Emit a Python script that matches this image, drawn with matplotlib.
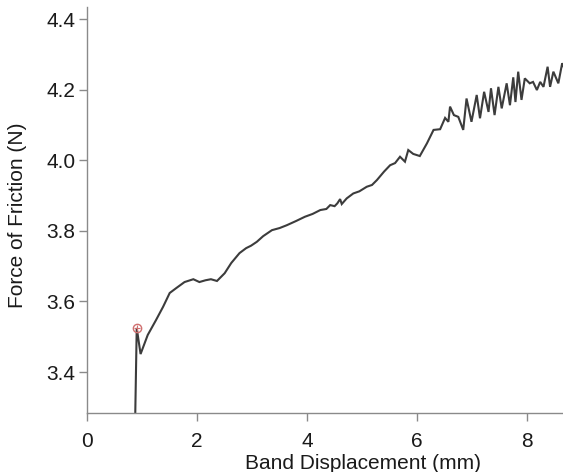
import matplotlib
matplotlib.use("Agg")
import matplotlib.pyplot as plt

plt.rcParams['font.family'] = ['Liberation Sans', 'DejaVu Sans']

displacement = [0.87, 0.90, 0.97, 1.10, 1.25, 1.38, 1.50, 1.62, 1.77, 1.93, 2.04, 2.15, 2.25,
                2.36, 2.50, 2.62, 2.77, 2.89, 2.98, 3.085, 3.20, 3.36, 3.50, 3.63, 3.80, 3.96,
                4.10, 4.24, 4.35, 4.42, 4.50, 4.55, 4.60, 4.63, 4.72, 4.84, 4.95, 5.085, 5.18,
                5.27, 5.40, 5.51, 5.60, 5.69, 5.78, 5.84, 5.93, 6.05, 6.18, 6.30, 6.42, 6.51,
                6.57, 6.60, 6.67, 6.75, 6.84, 6.90, 6.99, 7.085, 7.145, 7.22, 7.30, 7.345, 7.41,
                7.48, 7.54, 7.63, 7.69, 7.75, 7.79, 7.84, 7.90, 7.96, 8.05, 8.11, 8.18, 8.24,
                8.30, 8.375, 8.42, 8.48, 8.57, 8.64, 8.68]
friction = [3.25, 3.525, 3.451, 3.505, 3.547, 3.585, 3.624, 3.638, 3.655, 3.663, 3.655, 3.660, 3.663,
            3.658, 3.680, 3.709, 3.737, 3.751, 3.758, 3.769, 3.785, 3.802, 3.808, 3.816, 3.828, 3.840,
            3.848, 3.859, 3.862, 3.873, 3.870, 3.878, 3.890, 3.876, 3.892, 3.906, 3.912, 3.925, 3.930,
            3.944, 3.968, 3.986, 3.992, 4.010, 3.996, 4.029, 4.018, 4.012, 4.048, 4.086, 4.088, 4.120,
            4.109, 4.152, 4.128, 4.123, 4.086, 4.175, 4.109, 4.185, 4.119, 4.194, 4.137, 4.204, 4.128,
            4.208, 4.147, 4.218, 4.156, 4.235, 4.165, 4.251, 4.171, 4.232, 4.218, 4.222, 4.199, 4.222,
            4.208, 4.265, 4.208, 4.251, 4.218, 4.275, 4.260]

peak_x = [0.90]
peak_y = [3.525]

x_ticks = [0, 2, 4, 6, 8]
y_ticks = [3.4, 3.6, 3.8, 4.0, 4.2, 4.4]

fig = plt.figure(figsize=(5.63, 4.72), dpi=100)
ax = fig.add_axes([0.154, 0.125, 0.846, 0.860])

ax.plot(displacement, friction, color='#3c3c3c', lw=1.5, solid_joinstyle='miter')
ax.plot(peak_x, peak_y, 'o', ms=6, mfc='none', mec='#d07070', mew=1.0)
ax.plot(peak_x, peak_y, '+', ms=4, mec='#d07070', mew=0.8)

ax.set_xlim(-0.01, 8.655)
ax.set_ylim(3.284, 4.434)
ax.set_xticks(x_ticks)
ax.set_xticklabels([str(v) for v in x_ticks])
ax.set_yticks(y_ticks)
ax.set_yticklabels([f"{v:.1f}" for v in y_ticks])

for s in ['top', 'right']:
    ax.spines[s].set_visible(False)
for s in ['left', 'bottom']:
    ax.spines[s].set_color('#8a8a8a')
    ax.spines[s].set_linewidth(1.0)
ax.tick_params(direction='out', length=6, width=1.0, color='#8a8a8a',
               labelsize=15, labelcolor='#1a1a1a')
ax.tick_params(axis='x', pad=7.5)
ax.tick_params(axis='y', pad=2)

ax.set_xlabel('Band Displacement (mm)', fontsize=15, color='#1a1a1a')
ax.set_ylabel('Force of Friction (N)', fontsize=15, color='#1a1a1a')
ax.xaxis.set_label_coords(0.58, -0.102)
ax.yaxis.set_label_coords(-0.125, 0.488)

fig.savefig('out.png', dpi=100)
